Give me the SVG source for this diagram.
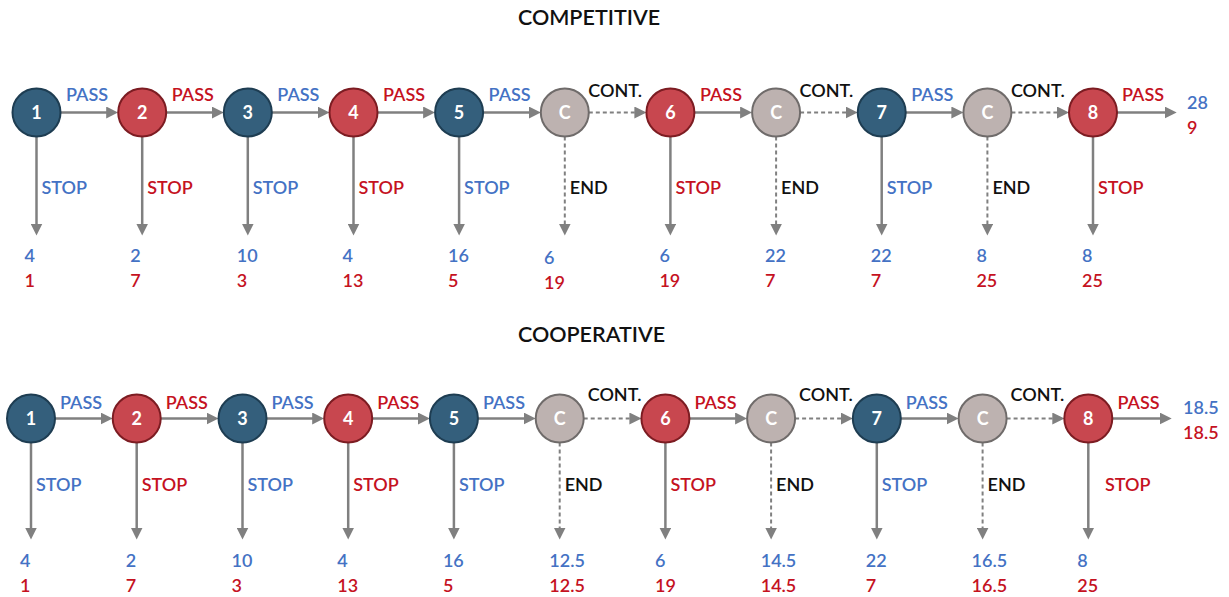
<svg xmlns="http://www.w3.org/2000/svg" width="1229" height="597" viewBox="0 0 1229 597">
  <style>
    text { font-family: Lato, "Open Sans", "Liberation Sans", sans-serif; }
    .title { font-size: 21.5px; font-weight: 600; fill: #111; text-anchor: middle; }
    .lbl { font-size: 18px; font-weight: 600; }
    .num { font-size: 18px; font-weight: 600; }
    .blue { fill: #4472c4; }
    .red { fill: #c5121f; }
    .black { fill: #111; }
    .nb { fill: #345f7c; stroke: #1e3d52; stroke-width: 2; }
    .nr { fill: #c8474f; stroke: #7c1c22; stroke-width: 2; }
    .nc { fill: #bdb2b0; stroke: #6f6b6a; stroke-width: 2; }
    .nt { font-size: 18px; font-weight: 700; fill: #fff; text-anchor: middle; }
    .e { stroke: #808080; stroke-width: 2.5; fill: none; marker-end: url(#head); }
    .d { stroke-dasharray: 4 3; stroke-width: 2; }
  </style>
  <defs>
    <marker id="head" viewBox="0 0 12 12" refX="1" refY="6" markerWidth="12" markerHeight="12" markerUnits="userSpaceOnUse" orient="auto">
      <path d="M0,0 L12,6 L0,12 z" fill="#808080"/>
    </marker>
  </defs>

  <rect width="1229" height="597" fill="#fff"/>

  <text class="title" x="589" y="25">COMPETITIVE</text>
  <text class="title" x="591.5" y="341.5">COOPERATIVE</text>

  <!-- ===== Competitive game: connectors ===== -->
  <g id="connectors-top">
    <line class="e" x1="60.5" y1="112.5" x2="107.2" y2="112.5"/>
    <line class="e" x1="166.2" y1="112.5" x2="212.8" y2="112.5"/>
    <line class="e" x1="271.8" y1="112.5" x2="318.5" y2="112.5"/>
    <line class="e" x1="377.5" y1="112.5" x2="424.1" y2="112.5"/>
    <line class="e" x1="483.1" y1="112.5" x2="529.8" y2="112.5"/>
    <line class="e d" x1="588.8" y1="112.5" x2="635.4" y2="112.5"/>
    <line class="e" x1="694.4" y1="112.5" x2="741.1" y2="112.5"/>
    <line class="e d" x1="800.1" y1="112.5" x2="846.7" y2="112.5"/>
    <line class="e" x1="905.7" y1="112.5" x2="952.4" y2="112.5"/>
    <line class="e d" x1="1011.4" y1="112.5" x2="1058" y2="112.5"/>
    <line class="e" x1="1117" y1="112.5" x2="1165.7" y2="112.5"/>

    <line class="e" x1="36.5" y1="136.5" x2="36.5" y2="224.5"/>
    <line class="e" x1="142.2" y1="136.5" x2="142.2" y2="224.5"/>
    <line class="e" x1="247.8" y1="136.5" x2="247.8" y2="224.5"/>
    <line class="e" x1="353.5" y1="136.5" x2="353.5" y2="224.5"/>
    <line class="e" x1="459.1" y1="136.5" x2="459.1" y2="224.5"/>
    <line class="e d" x1="564.8" y1="136.5" x2="564.8" y2="224.5"/>
    <line class="e" x1="670.4" y1="136.5" x2="670.4" y2="224.5"/>
    <line class="e d" x1="776.1" y1="136.5" x2="776.1" y2="224.5"/>
    <line class="e" x1="881.7" y1="136.5" x2="881.7" y2="224.5"/>
    <line class="e d" x1="987.4" y1="136.5" x2="987.4" y2="224.5"/>
    <line class="e" x1="1093" y1="136.5" x2="1093" y2="224.5"/>

    <!-- move labels -->
    <text class="lbl blue" x="66" y="101">PASS</text>
    <text class="lbl red" x="171.7" y="101">PASS</text>
    <text class="lbl blue" x="277.3" y="101">PASS</text>
    <text class="lbl red" x="383" y="101">PASS</text>
    <text class="lbl blue" x="488.6" y="101">PASS</text>
    <text class="lbl black" x="588.3" y="96.5">CONT.</text>
    <text class="lbl red" x="699.9" y="101">PASS</text>
    <text class="lbl black" x="799.6" y="96.5">CONT.</text>
    <text class="lbl blue" x="911.2" y="101">PASS</text>
    <text class="lbl black" x="1010.9" y="96.5">CONT.</text>
    <text class="lbl red" x="1122" y="101">PASS</text>

    <text class="lbl blue" x="41.5" y="194">STOP</text>
    <text class="lbl red" x="147.2" y="194">STOP</text>
    <text class="lbl blue" x="252.8" y="194">STOP</text>
    <text class="lbl red" x="358.5" y="194">STOP</text>
    <text class="lbl blue" x="464.1" y="194">STOP</text>
    <text class="lbl black" x="569.8" y="194">END</text>
    <text class="lbl red" x="675.4" y="194">STOP</text>
    <text class="lbl black" x="781.1" y="194">END</text>
    <text class="lbl blue" x="886.7" y="194">STOP</text>
    <text class="lbl black" x="992.4" y="194">END</text>
    <text class="lbl red" x="1098" y="194">STOP</text>
  </g>

  <!-- ===== Competitive game: nodes ===== -->
  <g id="top-1"><circle class="nb" cx="36.5" cy="112.5" r="24"/><text class="nt" x="36.5" y="119">1</text></g>
  <g id="top-2"><circle class="nr" cx="142.2" cy="112.5" r="24"/><text class="nt" x="142.2" y="119">2</text></g>
  <g id="top-3"><circle class="nb" cx="247.8" cy="112.5" r="24"/><text class="nt" x="247.8" y="119">3</text></g>
  <g id="top-4"><circle class="nr" cx="353.5" cy="112.5" r="24"/><text class="nt" x="353.5" y="119">4</text></g>
  <g id="top-5"><circle class="nb" cx="459.1" cy="112.5" r="24"/><text class="nt" x="459.1" y="119">5</text></g>
  <g id="top-c1"><circle class="nc" cx="564.8" cy="112.5" r="24"/><text class="nt" x="564.8" y="119">C</text></g>
  <g id="top-6"><circle class="nr" cx="670.4" cy="112.5" r="24"/><text class="nt" x="670.4" y="119">6</text></g>
  <g id="top-c2"><circle class="nc" cx="776.1" cy="112.5" r="24"/><text class="nt" x="776.1" y="119">C</text></g>
  <g id="top-7"><circle class="nb" cx="881.7" cy="112.5" r="24"/><text class="nt" x="881.7" y="119">7</text></g>
  <g id="top-c3"><circle class="nc" cx="987.4" cy="112.5" r="24"/><text class="nt" x="987.4" y="119">C</text></g>
  <g id="top-8"><circle class="nr" cx="1093" cy="112.5" r="24"/><text class="nt" x="1093" y="119">8</text></g>

  <!-- ===== Competitive game: payoffs ===== -->
  <g id="payoffs-top" class="num">
    <text class="blue" x="24.5" y="261.5">4</text><text class="red" x="24.5" y="286.5">1</text>
    <text class="blue" x="130.2" y="261.5">2</text><text class="red" x="130.2" y="286.5">7</text>
    <text class="blue" x="236.8" y="261.5">10</text><text class="red" x="236.8" y="286.5">3</text>
    <text class="blue" x="342.5" y="261.5">4</text><text class="red" x="342.5" y="286.5">13</text>
    <text class="blue" x="448.1" y="261.5">16</text><text class="red" x="448.1" y="286.5">5</text>
    <text class="blue" x="544" y="263.5">6</text><text class="red" x="544" y="288.5">19</text>
    <text class="blue" x="659.4" y="261.5">6</text><text class="red" x="659.4" y="286.5">19</text>
    <text class="blue" x="765.1" y="261.5">22</text><text class="red" x="765.1" y="286.5">7</text>
    <text class="blue" x="870.7" y="261.5">22</text><text class="red" x="870.7" y="286.5">7</text>
    <text class="blue" x="976.4" y="261.5">8</text><text class="red" x="976.4" y="286.5">25</text>
    <text class="blue" x="1082" y="261.5">8</text><text class="red" x="1082" y="286.5">25</text>
    <text class="blue" x="1187" y="109">28</text><text class="red" x="1187" y="134">9</text>
  </g>

  <!-- ===== Cooperative game: connectors ===== -->
  <g id="connectors-bottom">
    <line class="e" x1="55" y1="418.5" x2="101.7" y2="418.5"/>
    <line class="e" x1="160.7" y1="418.5" x2="207.5" y2="418.5"/>
    <line class="e" x1="266.5" y1="418.5" x2="313.2" y2="418.5"/>
    <line class="e" x1="372.2" y1="418.5" x2="418.9" y2="418.5"/>
    <line class="e" x1="477.9" y1="418.5" x2="524.7" y2="418.5"/>
    <line class="e d" x1="583.7" y1="418.5" x2="630.4" y2="418.5"/>
    <line class="e" x1="689.4" y1="418.5" x2="736.1" y2="418.5"/>
    <line class="e d" x1="795.1" y1="418.5" x2="841.8" y2="418.5"/>
    <line class="e" x1="900.8" y1="418.5" x2="947.6" y2="418.5"/>
    <line class="e d" x1="1006.6" y1="418.5" x2="1053.3" y2="418.5"/>
    <line class="e" x1="1112.3" y1="418.5" x2="1160.7" y2="418.5"/>

    <line class="e" x1="31" y1="442.5" x2="31" y2="528.5"/>
    <line class="e" x1="136.7" y1="442.5" x2="136.7" y2="528.5"/>
    <line class="e" x1="242.5" y1="442.5" x2="242.5" y2="528.5"/>
    <line class="e" x1="348.2" y1="442.5" x2="348.2" y2="528.5"/>
    <line class="e" x1="453.9" y1="442.5" x2="453.9" y2="528.5"/>
    <line class="e d" x1="559.7" y1="442.5" x2="559.7" y2="528.5"/>
    <line class="e" x1="665.4" y1="442.5" x2="665.4" y2="528.5"/>
    <line class="e d" x1="771.1" y1="442.5" x2="771.1" y2="528.5"/>
    <line class="e" x1="876.8" y1="442.5" x2="876.8" y2="528.5"/>
    <line class="e d" x1="982.6" y1="442.5" x2="982.6" y2="528.5"/>
    <line class="e" x1="1088.3" y1="442.5" x2="1088.3" y2="528.5"/>

    <!-- move labels -->
    <text class="lbl blue" x="60" y="408.5">PASS</text>
    <text class="lbl red" x="165.7" y="408.5">PASS</text>
    <text class="lbl blue" x="271.5" y="408.5">PASS</text>
    <text class="lbl red" x="377.2" y="408.5">PASS</text>
    <text class="lbl blue" x="482.9" y="408.5">PASS</text>
    <text class="lbl black" x="587.7" y="400.5">CONT.</text>
    <text class="lbl red" x="694.4" y="408.5">PASS</text>
    <text class="lbl black" x="799.1" y="400.5">CONT.</text>
    <text class="lbl blue" x="905.8" y="408.5">PASS</text>
    <text class="lbl black" x="1010.6" y="400.5">CONT.</text>
    <text class="lbl red" x="1117.5" y="408.5">PASS</text>

    <text class="lbl blue" x="36" y="490.5">STOP</text>
    <text class="lbl red" x="141.7" y="490.5">STOP</text>
    <text class="lbl blue" x="247.5" y="490.5">STOP</text>
    <text class="lbl red" x="353.2" y="490.5">STOP</text>
    <text class="lbl blue" x="458.9" y="490.5">STOP</text>
    <text class="lbl black" x="564.7" y="490.5">END</text>
    <text class="lbl red" x="670.4" y="490.5">STOP</text>
    <text class="lbl black" x="776.1" y="490.5">END</text>
    <text class="lbl blue" x="881.8" y="490.5">STOP</text>
    <text class="lbl black" x="987.6" y="490.5">END</text>
    <text class="lbl red" x="1105" y="490.5">STOP</text>
  </g>

  <!-- ===== Cooperative game: nodes ===== -->
  <g id="bot-1"><circle class="nb" cx="31" cy="418.5" r="24"/><text class="nt" x="31" y="425">1</text></g>
  <g id="bot-2"><circle class="nr" cx="136.7" cy="418.5" r="24"/><text class="nt" x="136.7" y="425">2</text></g>
  <g id="bot-3"><circle class="nb" cx="242.5" cy="418.5" r="24"/><text class="nt" x="242.5" y="425">3</text></g>
  <g id="bot-4"><circle class="nr" cx="348.2" cy="418.5" r="24"/><text class="nt" x="348.2" y="425">4</text></g>
  <g id="bot-5"><circle class="nb" cx="453.9" cy="418.5" r="24"/><text class="nt" x="453.9" y="425">5</text></g>
  <g id="bot-c1"><circle class="nc" cx="559.7" cy="418.5" r="24"/><text class="nt" x="559.7" y="425">C</text></g>
  <g id="bot-6"><circle class="nr" cx="665.4" cy="418.5" r="24"/><text class="nt" x="665.4" y="425">6</text></g>
  <g id="bot-c2"><circle class="nc" cx="771.1" cy="418.5" r="24"/><text class="nt" x="771.1" y="425">C</text></g>
  <g id="bot-7"><circle class="nb" cx="876.8" cy="418.5" r="24"/><text class="nt" x="876.8" y="425">7</text></g>
  <g id="bot-c3"><circle class="nc" cx="982.6" cy="418.5" r="24"/><text class="nt" x="982.6" y="425">C</text></g>
  <g id="bot-8"><circle class="nr" cx="1088.3" cy="418.5" r="24"/><text class="nt" x="1088.3" y="425">8</text></g>

  <!-- ===== Cooperative game: payoffs ===== -->
  <g id="payoffs-bottom" class="num">
    <text class="blue" x="20" y="566.5">4</text><text class="red" x="20" y="591.5">1</text>
    <text class="blue" x="125.7" y="566.5">2</text><text class="red" x="125.7" y="591.5">7</text>
    <text class="blue" x="231.5" y="566.5">10</text><text class="red" x="231.5" y="591.5">3</text>
    <text class="blue" x="337.2" y="566.5">4</text><text class="red" x="337.2" y="591.5">13</text>
    <text class="blue" x="442.9" y="566.5">16</text><text class="red" x="442.9" y="591.5">5</text>
    <text class="blue" x="549.3" y="566.5">12.5</text><text class="red" x="549.3" y="591.5">12.5</text>
    <text class="blue" x="655" y="566.5">6</text><text class="red" x="655" y="591.5">19</text>
    <text class="blue" x="760.7" y="566.5">14.5</text><text class="red" x="760.7" y="591.5">14.5</text>
    <text class="blue" x="865.8" y="566.5">22</text><text class="red" x="865.8" y="591.5">7</text>
    <text class="blue" x="971.6" y="566.5">16.5</text><text class="red" x="971.6" y="591.5">16.5</text>
    <text class="blue" x="1077.3" y="566.5">8</text><text class="red" x="1077.3" y="591.5">25</text>
    <text class="blue" x="1183" y="413.5">18.5</text><text class="red" x="1183" y="438.5">18.5</text>
  </g>
</svg>
